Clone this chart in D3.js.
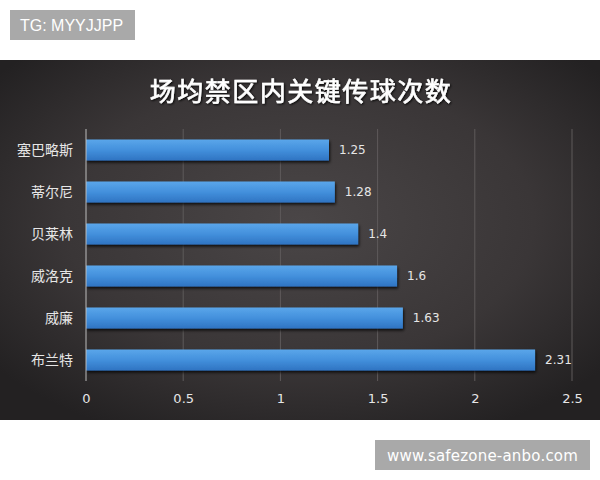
<!DOCTYPE html>
<html><head><meta charset="utf-8">
<script src="https://cdn.jsdelivr.net/npm/d3@7/dist/d3.min.js"></script>
<style>body{margin:0;background:#fff}svg{display:block}</style>
</head><body>
<svg id="c" width="600" height="480"></svg>
<script>
const title = "场均禁区内关键传球次数";
const categories = ["塞巴略斯","蒂尔尼","贝莱林","威洛克","威廉","布兰特"];
const values = [1.25,1.28,1.4,1.6,1.63,2.31];
const valueLabels = ["1.25","1.28","1.4","1.6","1.63","2.31"];
const xTicks = [0,0.5,1,1.5,2,2.5];
const xTickLabels = ["0","0.5","1","1.5","2","2.5"];
const topTag = "TG: MYYJJPP";
const bottomTag = "www.safezone-anbo.com";

const svg = d3.select("#c");
const defs = svg.append("defs");
const bg = defs.append("radialGradient").attr("id","bg").attr("cx","50%").attr("cy","45%").attr("r","65%");
bg.append("stop").attr("offset","0%").attr("stop-color","#4a4647");
bg.append("stop").attr("offset","60%").attr("stop-color","#3a3637");
bg.append("stop").attr("offset","100%").attr("stop-color","#232122");
const bar = defs.append("linearGradient").attr("id","bar").attr("x1",0).attr("y1",0).attr("x2",0).attr("y2",1);
bar.append("stop").attr("offset","0%").attr("stop-color","#5aa6ea");
bar.append("stop").attr("offset","50%").attr("stop-color","#4390dc");
bar.append("stop").attr("offset","100%").attr("stop-color","#2f74c2");
const f = defs.append("filter").attr("id","sh").attr("x","-10%").attr("y","-30%").attr("width","120%").attr("height","180%");
f.append("feDropShadow").attr("dx",1).attr("dy",2).attr("stdDeviation",1.5).attr("flood-color","#000").attr("flood-opacity",0.8);
const ts = defs.append("filter").attr("id","ts").attr("x","-5%").attr("y","-20%").attr("width","110%").attr("height","150%");
ts.append("feDropShadow").attr("dx",1).attr("dy",1).attr("stdDeviation",1).attr("flood-color","#000").attr("flood-opacity",0.9);

// panel
svg.append("rect").attr("x",0).attr("y",60).attr("width",600).attr("height",360).attr("fill","url(#bg)");

// tags
svg.append("rect").attr("x",10).attr("y",10).attr("width",125).attr("height",30).attr("fill","#a9a9a9");
svg.append("text").attr("x",20).attr("y",31).attr("fill","#fff").attr("font-family","Liberation Sans, Arial, sans-serif").attr("font-size",16).text(topTag);
svg.append("rect").attr("x",375).attr("y",440).attr("width",215).attr("height",30).attr("fill","#a9a9a9");
svg.append("text").attr("x",482.5).attr("y",461).attr("text-anchor","middle").attr("fill","#fff").attr("font-family","DejaVu Sans, sans-serif").attr("font-size",15).attr("letter-spacing",0.2).text(bottomTag);

// title
svg.append("text").attr("x",301).attr("y",101).attr("text-anchor","middle").attr("fill","#fff")
  .attr("font-family","Noto Sans CJK SC, sans-serif").attr("font-weight","normal").attr("font-size",26)
  .attr("letter-spacing",1.5).attr("stroke","#fff").attr("stroke-width",0.6).attr("filter","url(#ts)").text(title);

const x = d3.scaleLinear().domain([0,2.5]).range([86,572]);
const y = d3.scaleBand().domain(categories).range([129,381]).paddingInner(0.5).paddingOuter(0.25);

// gridlines
svg.append("g").selectAll("line").data(xTicks.slice(1)).join("line")
  .attr("x1",d=>x(d)).attr("x2",d=>x(d)).attr("y1",129).attr("y2",381)
  .attr("stroke","#5e5a5b").attr("stroke-width",1);

// bars
svg.append("g").selectAll("rect").data(values).join("rect")
  .attr("x",x(0)).attr("y",(d,i)=>y(categories[i])).attr("width",d=>x(d)-x(0)).attr("height",y.bandwidth())
  .attr("fill","url(#bar)").attr("filter","url(#sh)");

// axis line
svg.append("line").attr("x1",x(0)).attr("x2",x(0)).attr("y1",129).attr("y2",381).attr("stroke","#bdbdbd").attr("stroke-width",1);

// x axis via d3
const xa = svg.append("g").attr("transform","translate(0,381)")
  .call(d3.axisBottom(x).tickValues(xTicks).tickFormat((d,i)=>xTickLabels[i]).tickSize(0).tickPadding(13));
xa.select(".domain").remove();
xa.selectAll("text").attr("fill","#e6e6e6").attr("font-family","DejaVu Sans, sans-serif").attr("font-size",13);

// y labels
svg.append("g").selectAll("text").data(categories).join("text")
  .attr("x",73).attr("y",d=>y(d)+y.bandwidth()/2).attr("dy","0.36em").attr("text-anchor","end")
  .attr("fill","#e6e6e6").attr("font-family","Noto Sans CJK SC, sans-serif").attr("font-size",14).text(d=>d);

// value labels
svg.append("g").selectAll("text").data(values).join("text")
  .attr("x",d=>x(d)+10).attr("y",(d,i)=>y(categories[i])+y.bandwidth()/2).attr("dy","0.36em")
  .attr("fill","#e6e6e6").attr("font-family","DejaVu Sans, sans-serif").attr("font-size",12).text((d,i)=>valueLabels[i]);
</script>
</body></html>
